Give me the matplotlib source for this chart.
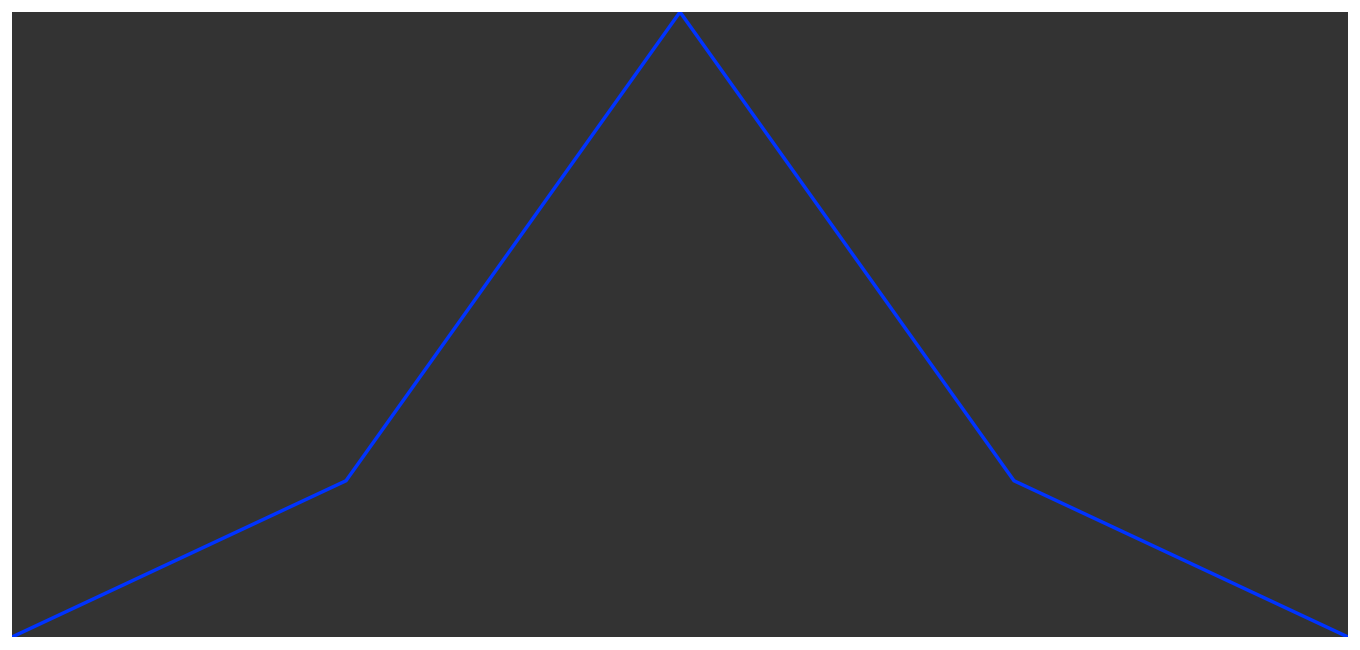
import matplotlib
matplotlib.use("Agg")
import matplotlib.pyplot as plt

categories = ["A", "B", "C", "D", "E"]
values = [0, 1, 4, 1, 0]

fig = plt.figure(figsize=(13.6, 6.5), dpi=100)
ax = fig.add_axes([12/1360, 13/650, 1336/1360, 625/650])
ax.set_facecolor("#333333")
x = list(range(len(categories)))
ax.plot(x, values, color="#0033ff", linewidth=2.5, solid_joinstyle="miter")
ax.set_xlim(0, len(categories) - 1)
ax.set_ylim(min(values), max(values))
ax.set_xticks([])
ax.set_yticks([])
for s in ax.spines.values():
    s.set_visible(False)
fig.savefig("out.png", dpi=100, facecolor="white")
